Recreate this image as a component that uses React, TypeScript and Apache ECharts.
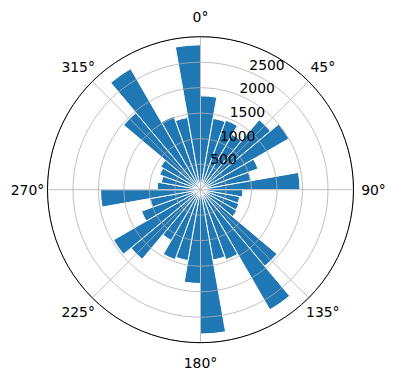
import React, { useEffect, useRef } from 'react';
import * as echarts from 'echarts';

// Start angle (degrees, clockwise from north) of each 10° bin
const binStarts = [
  '0', '10', '20', '30', '40', '50', '60', '70', '80',
  '90', '100', '110', '120', '130', '140', '150', '160', '170',
  '180', '190', '200', '210', '220', '230', '240', '250', '260',
  '270', '280', '290', '300', '310', '320', '330', '340', '350',
];

// Bar lengths per bin
const radii = [
  1840, 1420, 1450, 1250, 1790, 2000, 1200, 1000, 1950,
  830, 780, 800, 820, 1960, 2720, 1460, 1400, 2830,
  1840, 1410, 1460, 1150, 1780, 1970, 1230, 1000, 1960,
  850, 780, 850, 900, 1970, 2740, 1530, 1440, 2840,
];

const radialMax = 3000;
const radialStep = 500;
const angleStep = 45;
const cardinalAngles = [0, 90, 180, 270];
const diagonalAngles = [45, 135, 225, 315];

const FONT = 'DejaVu Sans';
const FS = 13.9;
const BOX = 42;

export default function App() {
  const ref = useRef<HTMLDivElement>(null);
  useEffect(() => {
    if (!ref.current) return;
    const chart = echarts.init(ref.current, undefined, { renderer: 'svg' });
    const CX = 200.5, CY = 189.7, R = 153;
    const polarBase = { center: [CX, CY], radius: R };
    const hidden = {
      axisLine: { show: false }, axisTick: { show: false },
      axisLabel: { show: false }, splitLine: { show: false }, splitArea: { show: false },
    };
    const rich = {
      a: {
        width: BOX, height: BOX, lineHeight: BOX, align: 'center', verticalAlign: 'middle',
        fontFamily: FONT, fontSize: FS, color: '#000',
      },
    };
    chart.setOption({
      animation: false,
      textStyle: { fontFamily: FONT, fontSize: FS, color: '#000' },
      polar: [polarBase, polarBase, polarBase, polarBase],
      angleAxis: [
        {
          polarIndex: 0, type: 'category', data: binStarts, startAngle: 90,
          clockwise: true, boundaryGap: true, ...hidden,
        },
        {
          polarIndex: 1, type: 'value', min: 0, max: 360, interval: angleStep,
          startAngle: 90, clockwise: true, z: 10,
          axisLine: { show: true, lineStyle: { color: '#000', width: 1 } },
          axisTick: { show: false },
          axisLabel: {
            show: true, margin: -1, rich,
            formatter: (v: number) => (cardinalAngles.includes(v) ? `{a|${v}°}` : ''),
          },
          splitLine: { show: true, lineStyle: { color: '#b0b0b0', width: 0.8 } },
        },
        {
          polarIndex: 2, type: 'value', min: 0, max: 360, interval: angleStep,
          startAngle: 90, clockwise: true, z: 10,
          axisLine: { show: false }, axisTick: { show: false }, splitLine: { show: false },
          axisLabel: {
            show: true, margin: -9.7, rich,
            formatter: (v: number) => (diagonalAngles.includes(v) ? `{a|${v}°}` : ''),
          },
        },
        {
          polarIndex: 3, type: 'value', min: 0, max: 360, startAngle: 67.5,
          clockwise: true, ...hidden,
        },
      ],
      radiusAxis: [
        { polarIndex: 0, type: 'value', min: 0, max: radialMax, ...hidden },
        {
          polarIndex: 1, type: 'value', min: 0, max: radialMax, interval: radialStep, z: 10,
          axisLine: { show: false }, axisTick: { show: false }, axisLabel: { show: false },
          splitLine: { show: true, lineStyle: { color: '#b0b0b0', width: 0.8 } },
        },
        { polarIndex: 2, type: 'value', min: 0, max: radialMax, ...hidden },
        {
          polarIndex: 3, type: 'value', min: 0, max: radialMax, interval: radialStep, z: 11,
          axisLine: { show: false }, axisTick: { show: false }, splitLine: { show: false },
          axisLabel: {
            show: true, margin: 0, align: 'left', verticalAlign: 'bottom',
            color: '#000', fontFamily: FONT, fontSize: FS,
            formatter: (v: number) => (v === 0 || v === radialMax ? '' : String(v)),
          },
        },
      ],
      series: [
        {
          type: 'bar', coordinateSystem: 'polar', polarIndex: 0,
          data: radii, barCategoryGap: '0%', z: 2,
          itemStyle: { color: '#1f77b4', borderColor: '#ffffff', borderWidth: 1 },
        },
      ],
    });
    return () => chart.dispose();
  }, []);
  return (
    <div
      ref={ref}
      style={{ position: 'absolute', left: 0, top: 0, width: 396, height: 380, background: '#fff' }}
    />
  );
}
